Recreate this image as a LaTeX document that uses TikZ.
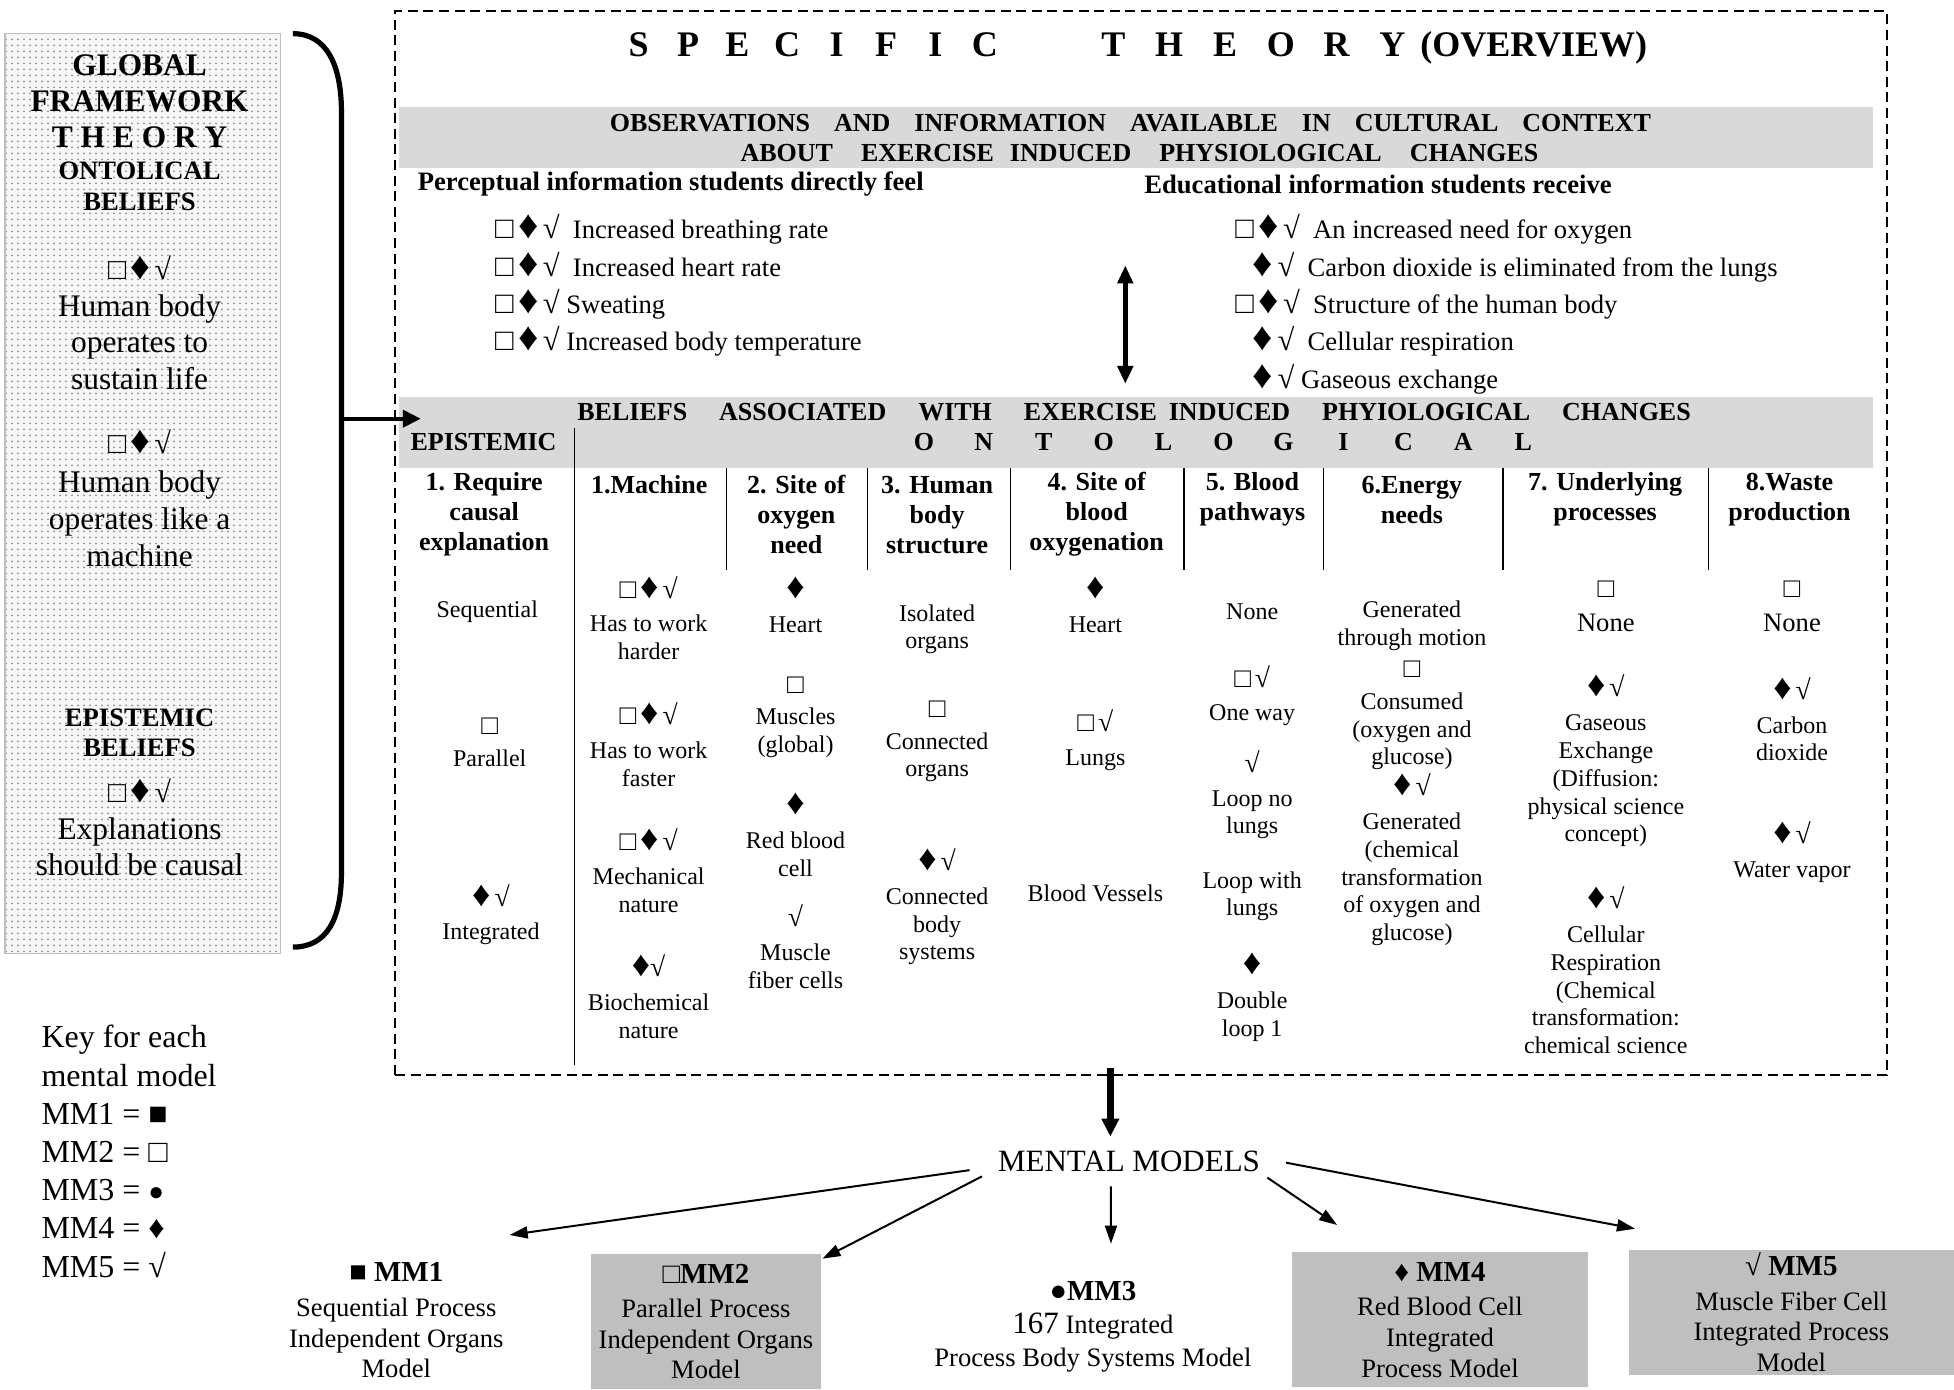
\documentclass[tikz,border=0pt]{standalone}
\usepackage{graphicx}
\usepackage{fontspec}
\setmainfont{Liberation Serif}
\usetikzlibrary{arrows.meta,patterns,calc}
\newcommand\lsS[1]{\makebox[24.75pt]{#1}}
\newcommand\lsT[1]{\makebox[27.9pt]{#1}}
\newcommand\lsO[1]{\makebox[29.97pt]{#1}}
\newcommand\mtitle[1]{{\fontsize{14.5}{16}\selectfont\bfseries #1}}
\newcommand\bignone{{\fontsize{13.3}{14}\selectfont None}}
\newcommand\smsym[1]{{\fontsize{13}{14}\selectfont #1}}
\newcommand\sq{\scalebox{1.15}{□}}
\newcommand\di{\scalebox{1.5}{♦}}
\newcommand\ck{\scalebox{1.15}{√}}
\newcommand\obsym[1]{\smash{#1}\strut}
\begin{document}
\begin{tikzpicture}[x=0.6231pt,y=-0.6231pt,
  txt/.style={inner sep=0pt,align=center},
  cellt/.style={txt,font=\fontsize{12}{13.9}\selectfont},
  hdr/.style={txt,font=\fontsize{13}{15}\selectfont\bfseries},
  obs/.style={inner sep=0pt,anchor=west,font=\fontsize{13.3}{16}\selectfont},
  obsh/.style={inner sep=0pt,anchor=west,font=\fontsize{13.3}{16}\selectfont\bfseries},
  bandtxt/.style={inner sep=0pt,anchor=west,font=\fontsize{13}{15}\selectfont\bfseries},
  gband/.style={fill=black!15,inner sep=0pt,minimum width=737.1pt},
  mbox/.style={fill=black!25,inner sep=0pt,align=center,font=\fontsize{13.3}{15.3}\selectfont},
  mfree/.style={inner sep=0pt,align=center,font=\fontsize{13.3}{15.3}\selectfont},
  leftbig/.style={txt,font=\fontsize{15.7}{18.4}\selectfont},
  leftbold/.style={txt,font=\fontsize{13.3}{15.3}\selectfont\bfseries},
  leftsym/.style={txt,font=\fontsize{13}{14}\selectfont},
  divline/.style={line width=0.8pt},
  tarrow/.style={line width=1pt,-{Triangle[length=9pt,width=6pt]}},
  barrow/.style={line width=3.3pt,-{Triangle[length=9pt,width=8.5pt]}},
  harrow/.style={line width=2pt,-{Triangle[length=9pt,width=8.5pt]}},
  darrow/.style={line width=2.5pt,{Triangle[length=9pt,width=7.6pt]}-{Triangle[length=9pt,width=7.6pt]}}
]
\useasboundingbox (0,0) rectangle (1568,1115);

% ---------- left framework box ----------
\node[draw=black!25,line width=0.6pt,preaction={fill=black!3},pattern=dots,pattern color=black!45,
      minimum width=137.7pt,minimum height=459.9pt,inner sep=0pt] (gft) at (114.5,396) {};
\node[txt,font=\fontsize{15.7}{18}\selectfont\bfseries] (lb1) at (112,81) {GLOBAL\\FRAMEWORK\\T H E O R Y};
\node[leftbold] (lb2) at (112,149.5) {ONTOLICAL\\BELIEFS};
\node[leftsym] (lb3) at (112,215) {\sq\,\di\,\ck};
\node[leftbig] (lb4) at (112,274.5) {Human body\\operates to\\sustain life};
\node[leftsym] (lb5) at (112,355) {\sq\,\di\,\ck};
\node[leftbig] (lb6) at (112,416.5) {Human body\\operates like a\\machine};
\node[leftbold] (lb7) at (112,588) {EPISTEMIC\\BELIEFS};
\node[leftsym] (lb8) at (112,635) {\sq\,\di\,\ck};
\node[leftbig] (lb9) at (112,679.5) {Explanations\\should be causal};

% brace
\draw[line width=2.6pt] (235,27) .. controls (262,27) and (274,52) .. (274,90) -- (274,700)
      .. controls (274,738) and (262,760) .. (235,760);
\coordinate (bmid) at (274,336);

% ---------- specific theory dashed box ----------
\node[draw,line width=1pt,dash pattern=on 5pt off 2.8pt,minimum width=745.85pt,minimum height=532.1pt,inner sep=0pt] (spec) at (915.5,436) {};

\node[inner sep=0pt,anchor=west,font=\fontsize{18}{20}\selectfont\bfseries] (title) at (492.2,38)
  {\lsS{S}\lsS{P}\lsS{E}\lsS{C}\lsS{I}\lsS{F}\lsS{I}\lsS{C}\hspace{37.9pt}\lsT{T}\lsT{H}\lsT{E}\lsT{O}\lsT{R}\lsT{Y}(OVERVIEW)};

% band 1
\node[gband,minimum height=30.5pt] (band1) at (911.5,110.5) {};
\node[bandtxt] (b1a) at (489,99) {OBSERVATIONS\hspace{12pt}AND\hspace{12pt}INFORMATION\hspace{12pt}AVAILABLE\hspace{12pt}IN\hspace{12pt}CULTURAL\hspace{12pt}CONTEXT};
\node[bandtxt] (b1b) at (594,123) {ABOUT\hspace{14pt}EXERCISE\hspace{8pt}INDUCED\hspace{14pt}PHYSIOLOGICAL\hspace{14pt}CHANGES};

\node[obsh] (sh1) at (335,148) {Perceptual information students directly feel};
\node[obsh] (sh2) at (918,148) {Educational information students receive};

\node[obs] (o1) at (397,186.5) {\obsym{\sq\,\di\,\ck}\ \ Increased breathing rate};
\node[obs] (o2) at (397,216.5) {\obsym{\sq\,\di\,\ck}\ \ Increased heart rate};
\node[obs] (o3) at (397,246.5) {\obsym{\sq\,\di\,\ck}\ Sweating};
\node[obs] (o4) at (397,276.5) {\obsym{\sq\,\di\,\ck}\ Increased body temperature};

\node[obs] (r1) at (991,186.5) {\obsym{\sq\,\di\,\ck}\ \ An increased need for oxygen};
\node[obs] (r2) at (1005,216.5) {\obsym{\di\,\ck}\ \ Carbon dioxide is eliminated from the lungs};
\node[obs] (r3) at (991,246.5) {\obsym{\sq\,\di\,\ck}\ \ Structure of the human body};
\node[obs] (r4) at (1005,276.5) {\obsym{\di\,\ck}\ \ Cellular respiration};
\node[obs] (r5) at (1005,306.5) {\obsym{\di\,\ck}\ Gaseous exchange};

\coordinate (da1) at (903,213);
\coordinate (da2) at (903,308);
\draw[darrow] (da1) -- (da2);

% band 2
\node[gband,minimum height=35.5pt] (band2) at (911.5,347) {};
\node[bandtxt] (b2a) at (463,331) {BELIEFS\hspace{16pt}ASSOCIATED\hspace{16pt}WITH\hspace{16pt}EXERCISE\hspace{6pt}INDUCED\hspace{16pt}PHYIOLOGICAL\hspace{16pt}CHANGES};
\node[bandtxt] (b2b) at (717,355) {\lsO{O}\lsO{N}\lsO{T}\lsO{O}\lsO{L}\lsO{O}\lsO{G}\lsO{I}\lsO{C}\lsO{A}\lsO{L}};
\node[hdr] (b2c) at (388,355) {EPISTEMIC};

\draw[harrow] (bmid) -- ($(band2.west)+(18,-11)$);

% dividers
\draw[divline] (461,343.6) -- (461,855);
\foreach \xx in {583,696,811,950,1062,1206,1371} \draw[divline] (\xx,375.5) -- (\xx,457);

% headers
\node[hdr] (H0) at (388.5,413) {1. Require\\causal\\explanation};
\node[hdr] (H1) at (521,389) {1.Machine};
\node[hdr] (H2) at (639,413) {2. Site of\\oxygen\\need};
\node[hdr] (H3) at (752,413) {3. Human\\body\\structure};
\node[hdr] (H4) at (880,413) {4. Site of\\blood\\oxygenation};
\node[hdr] (H5) at (1005,401) {5. Blood\\pathways};
\node[hdr] (H6) at (1133,401) {6.Energy\\needs};
\node[hdr] (H7) at (1288,401) {7. Underlying\\processes};
\node[hdr] (H8) at (1436,401) {8.Waste\\production};

% epistemic column
\node[cellt] (e1) at (391,491) {Sequential};
\node[cellt] (e2) at (393,596) {\sq\\[2pt]Parallel};
\node[cellt] (e3) at (394,734) {\di\,\ck\\[3pt]Integrated};

% 1 machine
\node[cellt] (k1) at (520.5,496) {\sq\,\di\,\ck\\[3pt]Has to work\\harder};
\node[cellt] (k2) at (520.5,597.5) {\sq\,\di\,\ck\\[3pt]Has to work\\faster};
\node[cellt] (k3) at (520.5,698.5) {\sq\,\di\,\ck\\[3pt]Mechanical\\nature};
\node[cellt] (k4) at (520.5,800) {\di\ck\\[3pt]Biochemical\\nature};

% 2 site of oxygen need
\node[cellt] (s1) at (638.4,485.5) {\di\\[3pt]Heart};
\node[cellt] (s2) at (638.4,575.5) {\sq\\[2pt]Muscles\\(global)};
\node[cellt] (s3) at (638.4,670) {\di\\[3pt]Red blood\\cell};
\node[cellt] (s4) at (638.4,759.5) {\ck\\[3pt]Muscle\\fiber cells};

% 3 body structure
\node[cellt] (h1) at (752,505) {Isolated\\organs};
\node[cellt] (h2) at (752,595) {\sq\\[2pt]Connected\\organs};
\node[cellt] (h3) at (752,727.75) {\di\,\ck\\[3pt]Connected\\body\\systems};

% 4 blood oxygenation
\node[cellt] (g1) at (879,485.5) {\di\\[3pt]Heart};
\node[cellt] (g2) at (879,593.75) {\sq\,\ck\\[3pt]Lungs};
\node[cellt] (g3) at (879,717) {Blood Vessels};

% 5 blood pathways
\node[cellt] (p1) at (1004.8,491) {None};
\node[cellt] (p2) at (1004.8,558.3) {\sq\,\ck\\[3pt]One way};
\node[cellt] (p3) at (1004.8,637.75) {\ck\\[3pt]Loop no\\lungs};
\node[cellt] (p4) at (1004.8,719.25) {Loop with\\lungs};
\node[cellt] (p5) at (1004.8,800.5) {\di\\[3pt]Double\\loop 1};

% 6 energy needs
\node[cellt] (n1) at (1133,502.25) {Generated\\through motion};
\node[cellt] (n2) at (1133,574.25) {\sq\\[2pt]Consumed\\(oxygen and\\glucose)};
\node[cellt] (n3) at (1133,690) {\di\,\ck\\[3pt]Generated\\(chemical\\transformation\\of oxygen and\\glucose)};

% 7 underlying processes
\node[cellt] (u1) at (1288.6,486.5) {\sq\\[3pt]\bignone};
\node[cellt] (u2) at (1288.6,610.75) {\di\,\ck\\[3pt]Gaseous\\Exchange\\(Diffusion:\\physical science\\concept)};
\node[cellt] (u3) at (1288.6,778.75) {\di\,\ck\\[3pt]Cellular\\Respiration\\(Chemical\\transformation:\\chemical science};

% 8 waste production
\node[cellt] (w1) at (1438,486.5) {\sq\\[3pt]\bignone};
\node[cellt] (w2) at (1438,577.25) {\di\,\ck\\[3pt]Carbon\\dioxide};
\node[cellt] (w3) at (1438,684) {\di\,\ck\\[3pt]Water vapor};

% ---------- key ----------
\node[anchor=west,align=left,inner sep=0pt,font=\fontsize{16}{19.1}\selectfont] (key) at (33,924)
  {Key for each\\mental model\\MM1 = ■\\MM2 = □\\MM3 = \smsym{●}\\MM4 = ♦\\MM5 = √};

% ---------- mental models ----------
\node[inner sep=0pt,font=\fontsize{15.5}{17}\selectfont] (mm) at (906,932) {MENTAL MODELS};
\coordinate (mmtop) at (891,912);
\draw[barrow] (spec.south -| mmtop) ++(0,-7) -- (mmtop);

\node[mfree] (m1) at (318,1059.5) {\mtitle{■ MM1}\\[2pt]Sequential Process\\Independent Organs\\Model};
\node[mbox,minimum width=115.3pt,minimum height=67.9pt] (m2) at (566.5,1060.5) {\mtitle{□MM2}\\[2pt]Parallel Process\\Independent Organs\\Model};
\node[mfree,font=\fontsize{13.3}{16.5}\selectfont] (m3) at (877,1064.5) {\mtitle{●MM3}\\{\fontsize{15.5}{16}\selectfont 167} Integrated\hspace*{22pt}\\Process Body Systems Model};
\node[mbox,minimum width=147.7pt,minimum height=67.3pt] (m4) at (1155.5,1059) {\mtitle{♦ MM4}\\[2pt]Red Blood Cell\\Integrated\\Process Model};
\node[mbox,minimum width=162.6pt,minimum height=62.3pt] (m5) at (1437.5,1053) {\mtitle{√ MM5}\\[2pt]Muscle Fiber Cell\\Integrated Process\\Model};

\coordinate (t1) at (409,991);
\coordinate (t2) at (660,1010);
\coordinate (t3) at (891.5,998);
\coordinate (t4) at (1073,983);
\coordinate (t5) at (1312,986);
\draw[tarrow] ($(mm.center)+(-128,7)$) -- (t1);
\draw[tarrow] ($(mm.center)+(-118,12)$) -- (t2);
\draw[tarrow] ($(mm.center)+(-14.5,20)$) -- (t3);
\draw[tarrow] ($(mm.center)+(111,13)$) -- (t4);
\draw[tarrow] ($(mm.center)+(126,1)$) -- (t5);
\end{tikzpicture}
\end{document}
